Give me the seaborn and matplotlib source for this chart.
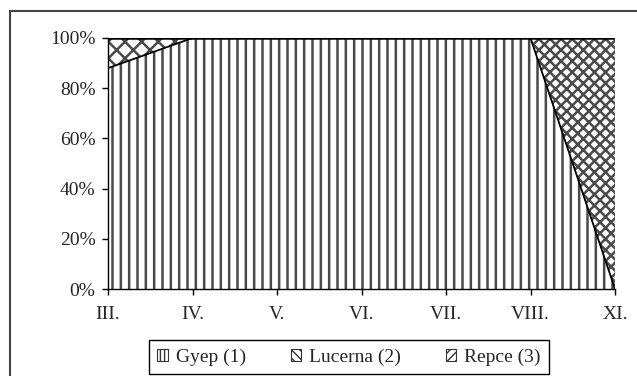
import matplotlib
matplotlib.use("Agg")
import matplotlib.pyplot as plt
import seaborn as sns
import pandas as pd
from matplotlib.patches import Patch
from matplotlib.lines import Line2D

# data (share of area, %)
months = ["III.", "IV.", "V.", "VI.", "VII.", "VIII.", "XI."]
gyep = [88, 100, 100, 100, 100, 100, 0]
lucerna = [12, 0, 0, 0, 0, 0, 0]
repce = [0, 0, 0, 0, 0, 0, 100]
labels = ["Gyep (1)", "Lucerna (2)", "Repce (3)"]
yticks = [0, 20, 40, 60, 80, 100]

sns.set_style("white")
plt.rcParams['font.family'] = ['Liberation Serif', 'DejaVu Serif']
plt.rcParams['hatch.linewidth'] = 1.8

df = pd.DataFrame({'month': months, 'x': range(len(months)),
                   'Gyep': gyep, 'Lucerna': lucerna, 'Repce': repce})
df['top1'] = df['Gyep']
df['top2'] = df['top1'] + df['Lucerna']
df['top3'] = df['top2'] + df['Repce']

fig = plt.figure(figsize=(6.37, 3.76), dpi=100)
ax = fig.add_axes([108 / 637, 1 - 289 / 376, 507 / 637, 251 / 376])

hatches = ['||', 'xx', 'xxx']
hcolor = '#4a4a4a'
bottoms = [0, df['top1'], df['top2']]
tops = [df['top1'], df['top2'], df['top3']]
for b, t, h in zip(bottoms, tops, hatches):
    ax.fill_between(df['x'], b, t, facecolor='white', edgecolor=hcolor,
                    hatch=h, linewidth=0)

sns.lineplot(data=df, x='x', y='top1', color='black', lw=1.3, ax=ax)
sns.lineplot(data=df, x='x', y='top3', color='black', lw=1.8, ax=ax)
ax.axvline(6, color='#707070', lw=1)

ax.set_xlim(0, 6)
ax.set_ylim(0, 100)
ax.set_xticks(df['x'])
ax.set_xticklabels(months, fontsize=14)
ax.set_yticks(yticks)
ax.set_yticklabels([f"{v}%" for v in yticks], fontsize=14)
ax.set_xlabel('')
ax.set_ylabel('')
ax.tick_params(axis='both', direction='out', length=4, width=1, color='black',
               bottom=True, left=True)
ax.tick_params(axis='x', pad=8)
ax.tick_params(axis='y', pad=5)
for s in ['top', 'right']:
    ax.spines[s].set_visible(False)
for s in ['left', 'bottom']:
    ax.spines[s].set_color('black')
    ax.spines[s].set_linewidth(1)

# outer frame (left and top edges visible)
fig.add_artist(Line2D([10 / 637, 10 / 637], [0, 1 - 11 / 376],
                      transform=fig.transFigure, color='#444444', lw=1.5))
fig.add_artist(Line2D([10 / 637, 1], [1 - 11 / 376, 1 - 11 / 376],
                      transform=fig.transFigure, color='#444444', lw=1.5))

plt.rcParams['hatch.linewidth'] = 1.0
handles = [Patch(facecolor='white', edgecolor='#333333', hatch=h, lw=0.8)
           for h in ['||||', '\\\\\\\\', '////']]
leg = fig.legend(handles, labels, loc='center',
                 bbox_to_anchor=(349 / 637, 1 - 357 / 376), ncol=3,
                 frameon=True, fancybox=False, edgecolor='black', framealpha=1,
                 fontsize=14, handlelength=0.55, handleheight=0.55,
                 handletextpad=0.4, columnspacing=2.3, borderpad=0.45)
leg.get_frame().set_linewidth(1)

fig.savefig('out.png', dpi=100)
